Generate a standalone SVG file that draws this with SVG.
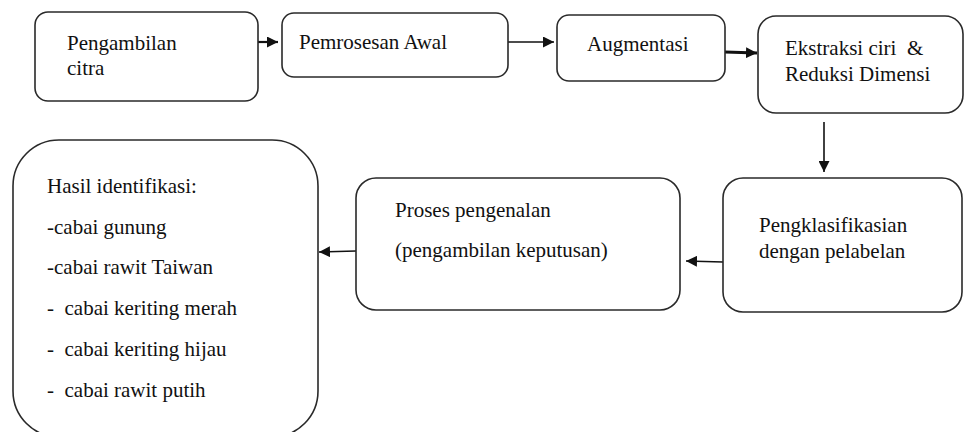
<svg xmlns="http://www.w3.org/2000/svg" width="965" height="432" viewBox="0 0 965 432">
<style>
.box{fill:#fff;stroke:#2a2a2a;stroke-width:1.6}
.t{font-size:21px;fill:#111;white-space:pre}
.c{stroke:#111;fill:none}
</style>
<defs>
<marker id="ah" markerUnits="userSpaceOnUse" markerWidth="11" markerHeight="11" viewBox="0 0 10 10" refX="10" refY="5" orient="auto">
<path d="M0,0 L10,5 L0,10 z" fill="#111"/>
</marker>
</defs>
<rect width="965" height="432" fill="#fff"/>
<g id="connectors">
<line class="c" x1="258" y1="42" x2="278" y2="42" stroke-width="2.2" marker-end="url(#ah)"/>
<line class="c" x1="508" y1="42" x2="554" y2="42" stroke-width="1.4" marker-end="url(#ah)"/>
<line class="c" x1="725" y1="52" x2="757" y2="53" stroke-width="3" marker-end="url(#ah)"/>
<line class="c" x1="824" y1="122" x2="824" y2="172" stroke-width="1.6" marker-end="url(#ah)"/>
<line class="c" x1="723" y1="262" x2="686" y2="261" stroke-width="1.6" marker-end="url(#ah)"/>
<line class="c" x1="356" y1="251" x2="319" y2="252" stroke-width="1.6" marker-end="url(#ah)"/>
</g>
<g font-family="'Liberation Serif', 'DejaVu Serif', 'Times New Roman', serif">
<g id="n1">
<rect class="box" x="35" y="12" width="223" height="89" rx="13"/>
<text class="t" x="67" y="50">Pengambilan</text>
<text class="t" x="67" y="75">citra</text>
</g>
<g id="n2">
<rect class="box" x="282" y="13" width="226" height="64" rx="12"/>
<text class="t" x="299" y="49">Pemrosesan Awal</text>
</g>
<g id="n3">
<rect class="box" x="557" y="15" width="168" height="66" rx="12"/>
<text class="t" x="587" y="51">Augmentasi</text>
</g>
<g id="n4">
<rect class="box" x="758" y="16" width="205" height="97" rx="18"/>
<text class="t" x="785" y="55">Ekstraksi ciri  &amp;</text>
<text class="t" x="785" y="81">Reduksi Dimensi</text>
</g>
<g id="n5">
<rect class="box" x="723" y="178" width="239" height="134" rx="20"/>
<text class="t" x="759" y="232">Pengklasifikasian</text>
<text class="t" x="759" y="258">dengan pelabelan</text>
</g>
<g id="n6">
<rect class="box" x="356" y="178" width="324" height="132" rx="20"/>
<text class="t" x="395" y="217">Proses pengenalan</text>
<text class="t" x="395" y="257">(pengambilan keputusan)</text>
</g>
<g id="n7">
<rect class="box" x="13" y="140" width="305" height="297" rx="46"/>
<text class="t" x="47" y="193">Hasil identifikasi:</text>
<text class="t" x="47" y="234">-cabai gunung</text>
<text class="t" x="47" y="274">-cabai rawit Taiwan</text>
<text class="t" x="47" y="315">-  cabai keriting merah</text>
<text class="t" x="47" y="356">-  cabai keriting hijau</text>
<text class="t" x="47" y="397">-  cabai rawit putih</text>
</g>
</g>
</svg>
